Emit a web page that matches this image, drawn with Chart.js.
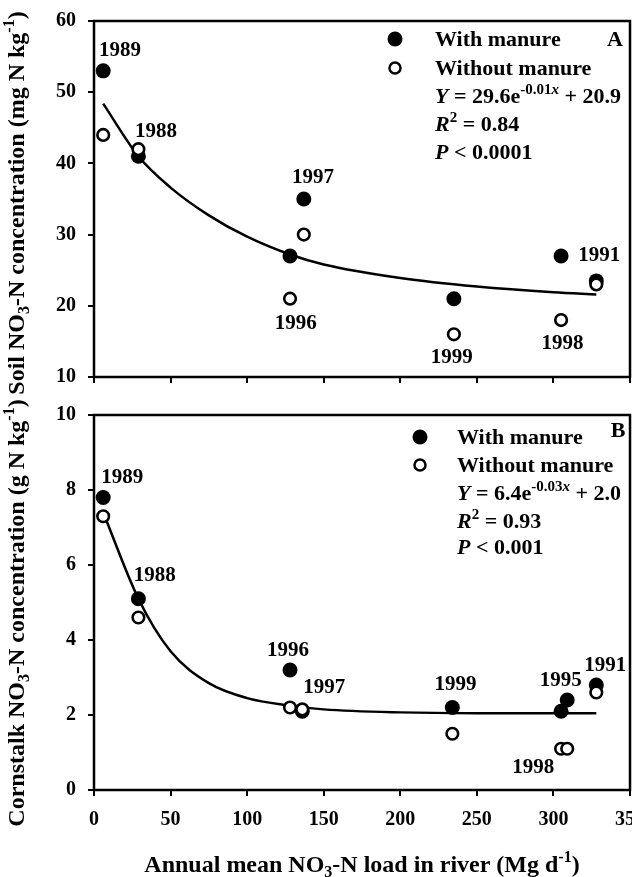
<!DOCTYPE html>
<html>
<head>
<meta charset="utf-8">
<script src="https://cdn.jsdelivr.net/npm/chart.js@4.4.1/dist/chart.umd.min.js"></script>
<style>
  body { margin: 0; background: #fff; }
  #wrap { position: relative; width: 632px; height: 877px; }
  canvas { position: absolute; left: 0; top: 0; }
</style>
</head>
<body>
<div id="wrap">
  <canvas id="soil" width="632" height="877"></canvas>
  <canvas id="stalk" width="632" height="877"></canvas>
</div>
<script>
// panel A: soil NO3-N (mg N/kg) vs river NO3-N load (Mg/d)
const soilX       = [6, 29, 128, 137, 235, 305, 328];
const soilWith    = [53, 41, 27, 35, 21, 27, 23.5];
const soilWithout = [44, 42, 21, 30, 16, 18, 23];
const soilFitX    = [6, 29, 50, 75, 100, 128, 150, 200, 250, 300, 328];
const soilFitY    = [48.4, 41, 36.6, 32.7, 29.7, 27.2, 25.8, 23.9, 22.7, 21.9, 21.6];
const soilYears   = ['1989', '1988', '1997', '1996', '1999', '1998', '1991'];
const soilYearX   = [17, 40.5, 143, 131.7, 233.6, 306, 330];
const soilYearY   = [56.1, 44.7, 38.2, 17.7, 13.0, 14.9, 27.2];

// panel B: cornstalk NO3-N (g N/kg)
const stalkX       = [6, 29, 128, 136, 234, 305, 309, 328];
const stalkWith    = [7.8, 5.1, 3.2, 2.1, 2.2, 2.1, 2.4, 2.8];
const stalkWithout = [7.3, 4.6, 2.2, 2.15, 1.5, 1.1, 1.1, 2.6];
const stalkFitX    = [6, 29, 50, 75, 100, 128, 150, 200, 250, 300, 328];
const stalkFitY    = [7.4, 5.1, 3.7, 2.85, 2.45, 2.25, 2.15, 2.07, 2.05, 2.05, 2.05];
const stalkYears   = ['1989', '1988', '1996', '1997', '1999', '1995', '1991', '1998'];
const stalkYearX   = [18.5, 39.6, 126.6, 150.4, 236, 304.7, 333.8, 286.8];
const stalkYearY   = [8.38, 5.76, 3.77, 2.77, 2.86, 2.95, 3.35, 0.63];

const xTicks = [0, 50, 100, 150, 200, 250, 300, 350];

const FONT = "'Liberation Serif', 'Times New Roman', serif";

// draw text made of parts (italic / superscript / subscript)
function rich(ctx, x, y, parts, size, align) {
  const fontOf = (p, s) => (p.i ? 'italic ' : '') + 'bold ' + s + 'px ' + FONT;
  let w = 0;
  const items = parts.map(p => {
    const s = (p.sup || p.sub) ? Math.round(size * 0.66) : size;
    ctx.font = fontOf(p, s);
    const pw = ctx.measureText(p.t).width;
    w += pw;
    return { p, s, pw };
  });
  let cx = align === 'center' ? x - w / 2 : x;
  ctx.textAlign = 'left';
  ctx.textBaseline = 'alphabetic';
  const base = y + size * 0.33;
  items.forEach(({ p, s, pw }) => {
    ctx.font = fontOf(p, s);
    const dy = p.sup ? -size * 0.42 : p.sub ? size * 0.22 : 0;
    ctx.fillText(p.t, cx, base + dy);
    cx += pw;
  });
}

function marker(ctx, x, y, filled) {
  ctx.beginPath();
  if (filled) {
    ctx.arc(x, y, 7.5, 0, Math.PI * 2);
    ctx.fillStyle = '#000';
    ctx.fill();
  } else {
    ctx.arc(x, y, 5.5, 0, Math.PI * 2);
    ctx.lineWidth = 2.5;
    ctx.strokeStyle = '#000';
    ctx.fillStyle = '#fff';
    ctx.fill();
    ctx.stroke();
  }
}

const deco = {
  id: 'deco',
  beforeDatasetsDraw(chart) {
    const { ctx, chartArea: a } = chart;
    ctx.save();
    ctx.strokeStyle = '#000';
    ctx.lineWidth = 2.5;
    ctx.strokeRect(a.left, a.top, a.right - a.left, a.bottom - a.top);
    ctx.restore();
  },
  afterDatasetsDraw(chart, args, o) {
    const { ctx, scales: { x, y } } = chart;
    ctx.save();
    ctx.fillStyle = '#000';
    o.years.forEach((t, i) => {
      rich(ctx, x.getPixelForValue(o.yearX[i]), y.getPixelForValue(o.yearY[i]), [{ t }], 21, 'center');
    });
    const L = o.legend;
    marker(ctx, L.mx, L.rows[0], true);
    marker(ctx, L.mx, L.rows[1], false);
    ctx.fillStyle = '#000';
    L.lines.forEach((parts, i) => rich(ctx, L.tx, L.rows[i], parts, 22, 'left'));
    rich(ctx, L.tagX, L.tagY, [{ t: L.tag }], 22, 'center');
    ctx.save();
    ctx.translate(o.yTitle.x, o.yTitle.y);
    ctx.rotate(-Math.PI / 2);
    rich(ctx, 0, 0, o.yTitle.parts, 24, 'center');
    ctx.restore();
    if (o.xTitle) rich(ctx, o.xTitle.x, o.xTitle.y, o.xTitle.parts, 24, 'center');
    ctx.restore();
  }
};

function axes(yMin, yMax, yStep, showX, xHeight) {
  const tickFont = { family: FONT, size: 20, weight: 'bold' };
  return {
    x: {
      type: 'linear', min: 0, max: 350,
      afterBuildTicks: s => { s.ticks = xTicks.map(v => ({ value: v })); },
      ticks: { display: showX, color: '#000', font: tickFont, padding: 12, maxRotation: 0 },
      grid: { drawOnChartArea: false, color: '#000', lineWidth: 2, tickLength: 6 },
      border: { display: false },
      afterFit: s => { s.height = xHeight; s.paddingLeft = 0; s.paddingRight = 0; }
    },
    y: {
      min: yMin, max: yMax,
      ticks: { stepSize: yStep, color: '#000', font: tickFont, padding: 12 },
      grid: { drawOnChartArea: false, color: '#000', lineWidth: 2, tickLength: 6 },
      border: { display: false },
      afterFit: s => { s.width = 94; s.paddingTop = 0; s.paddingBottom = 0; }
    }
  };
}

function datasets(xs, withV, withoutV, fitX, fitY) {
  return [
    {
      data: xs.map((v, i) => ({ x: v, y: withoutV[i] })),
      showLine: false, order: 1,
      pointRadius: 5.8, pointBorderWidth: 2.6,
      pointBackgroundColor: '#fff', pointBorderColor: '#000'
    },
    {
      data: xs.map((v, i) => ({ x: v, y: withV[i] })),
      showLine: false, order: 2,
      pointRadius: 7.5, pointBorderWidth: 0,
      pointBackgroundColor: '#000'
    },
    {
      data: fitX.map((v, i) => ({ x: v, y: fitY[i] })),
      showLine: true, order: 3,
      pointRadius: 0, borderColor: '#000', borderWidth: 2.5,
      cubicInterpolationMode: 'monotone'
    }
  ];
}

function makeChart(id, ds, scales, top, deco_) {
  return new Chart(document.getElementById(id), {
    type: 'scatter',
    data: { datasets: ds },
    options: {
      responsive: false, animation: false,
      layout: { autoPadding: false, padding: { top, left: 0, right: 2, bottom: 0 } },
      scales,
      plugins: { legend: { display: false }, tooltip: { enabled: false }, deco: deco_ }
    },
    plugins: [deco]
  });
}

makeChart('soil',
  datasets(soilX, soilWith, soilWithout, soilFitX, soilFitY),
  axes(10, 60, 10, false, 500), 21,
  {
    years: soilYears, yearX: soilYearX, yearY: soilYearY,
    legend: {
      mx: 395, tx: 435, rows: [39, 68, 96, 124, 152], tag: 'A', tagX: 615, tagY: 39,
      lines: [
        [{ t: 'With manure' }],
        [{ t: 'Without manure' }],
        [{ t: 'Y', i: 1 }, { t: ' = 29.6e' }, { t: '-0.01', sup: 1 }, { t: 'x', sup: 1, i: 1 }, { t: ' + 20.9' }],
        [{ t: 'R', i: 1 }, { t: '2', sup: 1 }, { t: ' = 0.84' }],
        [{ t: 'P', i: 1 }, { t: ' < 0.0001' }]
      ]
    },
    yTitle: { x: 16, y: 203, parts: [{ t: 'Soil NO' }, { t: '3', sub: 1 }, { t: '-N concentration (mg N kg' }, { t: '-1', sup: 1 }, { t: ')' }] }
  });

makeChart('stalk',
  datasets(stalkX, stalkWith, stalkWithout, stalkFitX, stalkFitY),
  axes(0, 10, 2, true, 87), 415,
  {
    years: stalkYears, yearX: stalkYearX, yearY: stalkYearY,
    legend: {
      mx: 420, tx: 457, rows: [437, 465, 493, 521, 547], tag: 'B', tagX: 618, tagY: 430,
      lines: [
        [{ t: 'With manure' }],
        [{ t: 'Without manure' }],
        [{ t: 'Y', i: 1 }, { t: ' = 6.4e' }, { t: '-0.03', sup: 1 }, { t: 'x', sup: 1, i: 1 }, { t: ' + 2.0' }],
        [{ t: 'R', i: 1 }, { t: '2', sup: 1 }, { t: ' = 0.93' }],
        [{ t: 'P', i: 1 }, { t: ' < 0.001' }]
      ]
    },
    yTitle: { x: 16, y: 613, parts: [{ t: 'Cornstalk NO' }, { t: '3', sub: 1 }, { t: '-N concentration (g N kg' }, { t: '-1', sup: 1 }, { t: ')' }] },
    xTitle: { x: 362, y: 864, parts: [{ t: 'Annual mean NO' }, { t: '3', sub: 1 }, { t: '-N load in river (Mg d' }, { t: '-1', sup: 1 }, { t: ')' }] }
  });
</script>
</body>
</html>
